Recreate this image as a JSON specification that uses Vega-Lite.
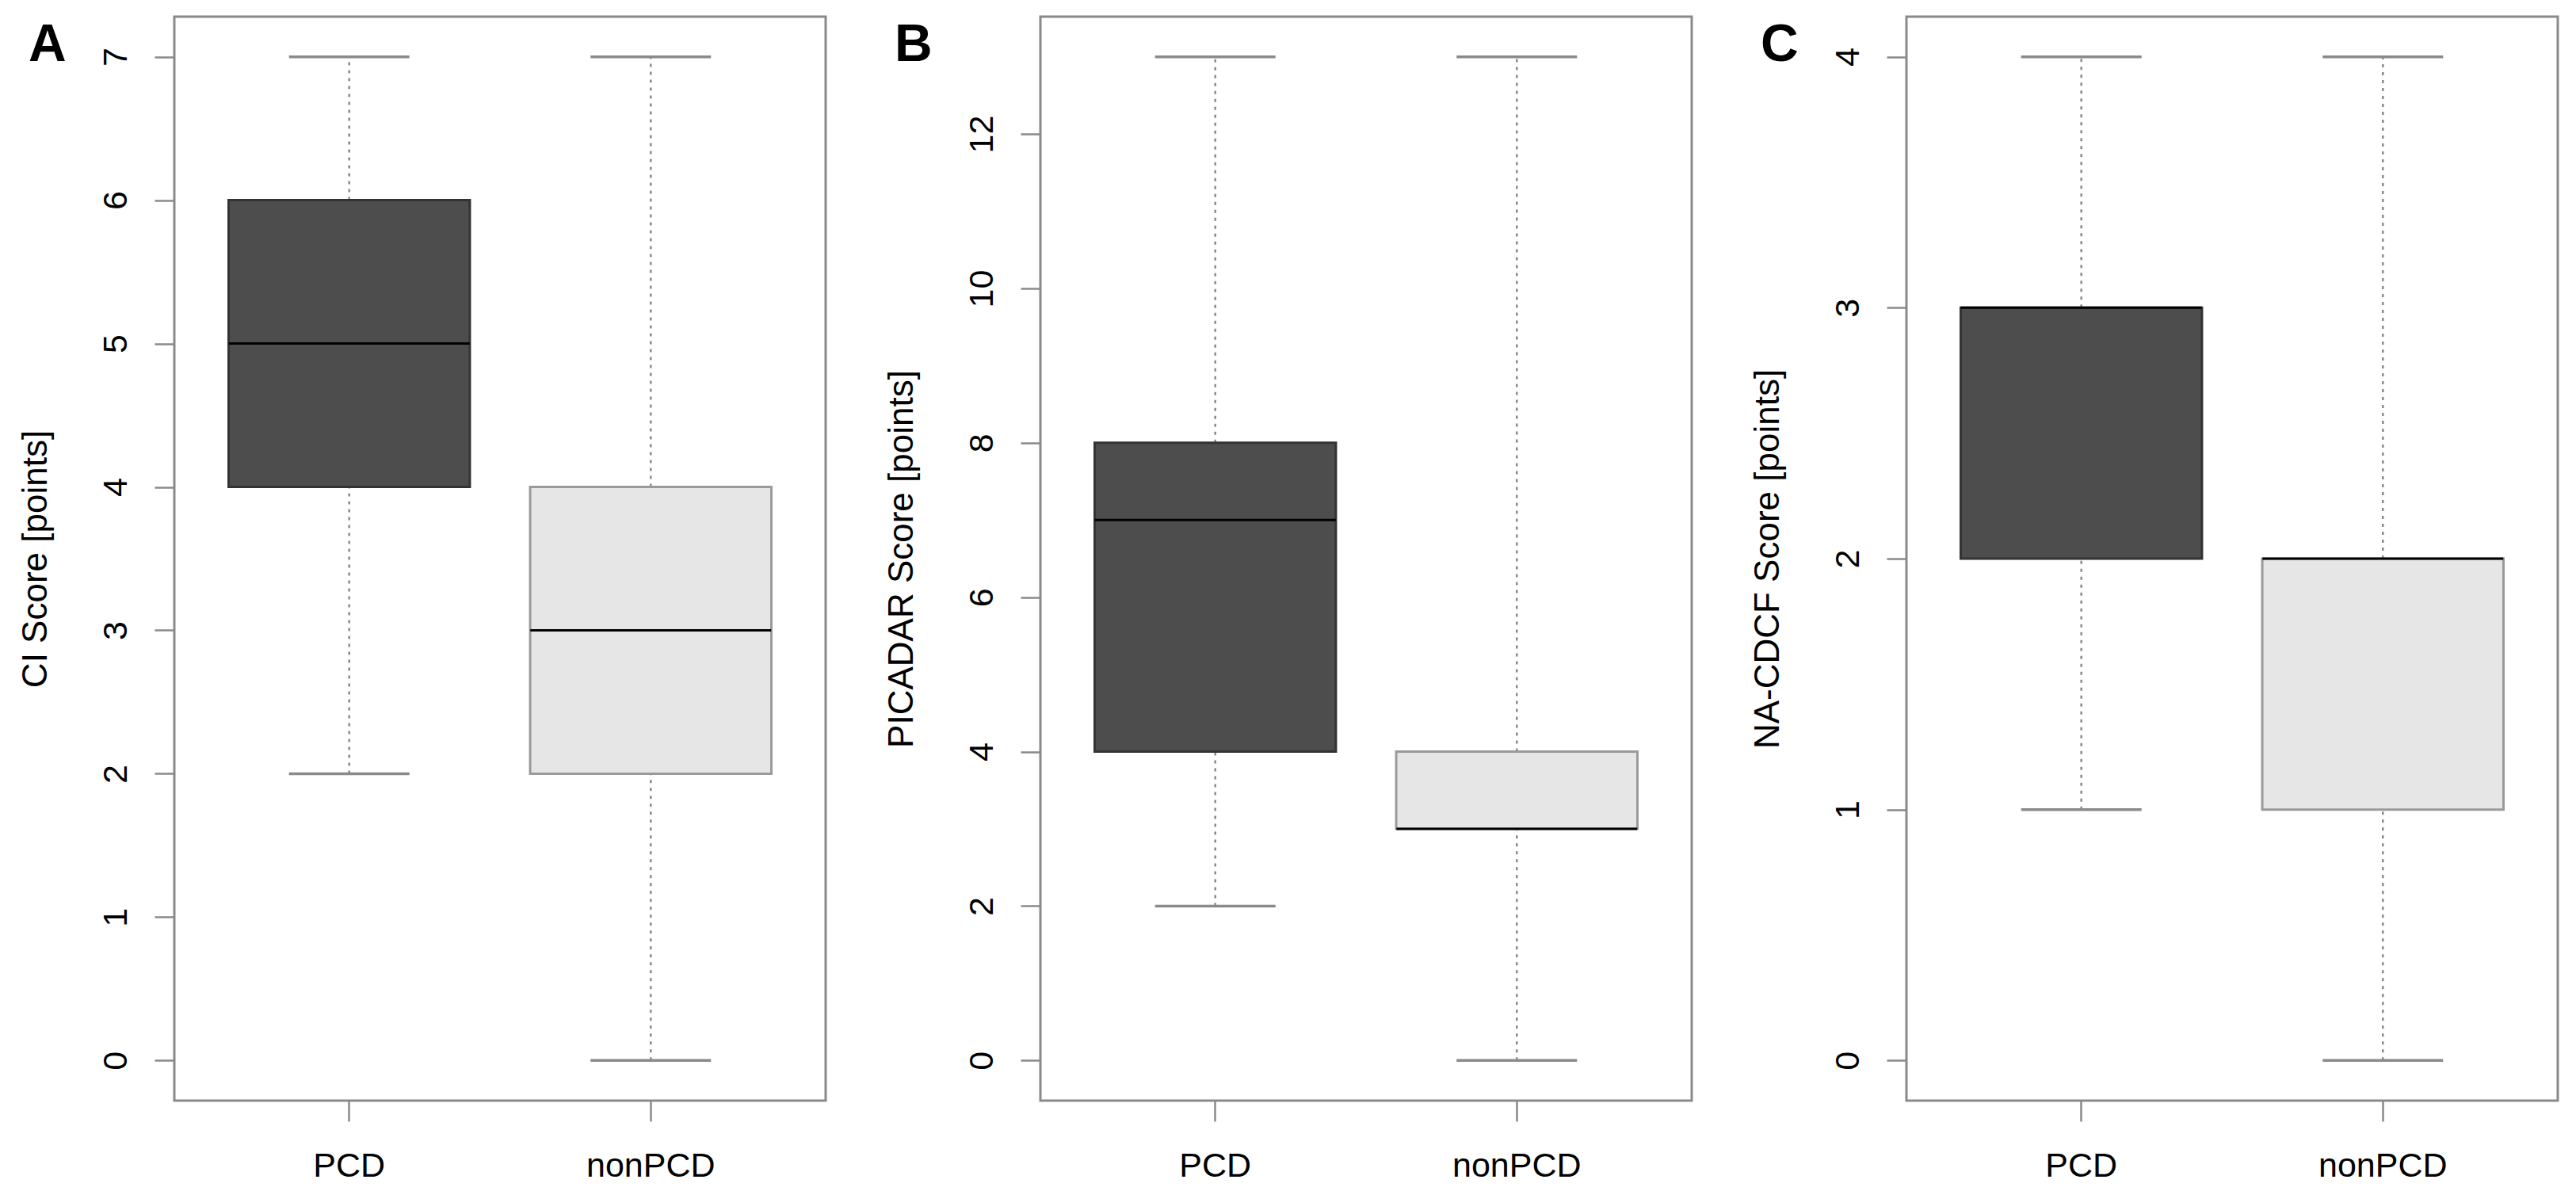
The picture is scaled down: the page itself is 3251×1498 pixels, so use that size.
{
  "$schema": "https://vega.github.io/schema/vega-lite/v6.json",
  "padding": {"left": 21, "top": 19, "right": 20, "bottom": 10},
  "background": "white",
  "datasets": {
    "scores": [
      {"panel": "A", "group": "PCD", "min": 2, "q1": 4, "median": 5, "q3": 6, "max": 7},
      {"panel": "A", "group": "nonPCD", "min": 0, "q1": 2, "median": 3, "q3": 4, "max": 7},
      {"panel": "B", "group": "PCD", "min": 2, "q1": 4, "median": 7, "q3": 8, "max": 13},
      {"panel": "B", "group": "nonPCD", "min": 0, "q1": 3, "median": 3, "q3": 4, "max": 13},
      {"panel": "C", "group": "PCD", "min": 1, "q1": 2, "median": 3, "q3": 3, "max": 4},
      {"panel": "C", "group": "nonPCD", "min": 0, "q1": 1, "median": 2, "q3": 2, "max": 4}
    ]
  },
  "data": {"name": "scores"},
  "spacing": 70,
  "hconcat": [
    {
      "width": 822, "height": 1368,
      "title": {"text": "A"},
      "transform": [{"filter": "datum.panel == 'A'"}],
      "encoding": {
        "x": {"field": "group", "type": "nominal", "sort": ["PCD", "nonPCD"],
              "scale": {"paddingInner": 0.2, "paddingOuter": 0.18}, "axis": {"title": null}}
      },
      "layer": [
        {"mark": {"type": "rule", "color": "#8a8a8a", "strokeWidth": 2.5, "strokeDash": [4, 6]},
         "encoding": {
           "y": {"field": "q3", "type": "quantitative", "scale": {"domain": [-0.28, 7.28], "nice": false, "zero": false},
                 "axis": {"title": "CI Score [points]", "values": [0, 1, 2, 3, 4, 5, 6, 7]}},
           "y2": {"field": "max"}}},
        {"mark": {"type": "rule", "color": "#8a8a8a", "strokeWidth": 2.5, "strokeDash": [4, 6]},
         "encoding": {"y": {"field": "min", "type": "quantitative"}, "y2": {"field": "q1"}}},
        {"mark": {"type": "bar", "width": {"band": 1}, "strokeWidth": 3},
         "encoding": {
           "y": {"field": "q1", "type": "quantitative"}, "y2": {"field": "q3"},
           "fill": {"field": "group", "type": "nominal", "scale": {"domain": ["PCD", "nonPCD"], "range": ["#4d4d4d", "#e6e6e6"]}, "legend": null},
           "stroke": {"field": "group", "type": "nominal", "scale": {"domain": ["PCD", "nonPCD"], "range": ["#333333", "#9a9a9a"]}, "legend": null}}},
        {"mark": {"type": "tick", "color": "black", "thickness": 3, "size": 304, "opacity": 1},
         "encoding": {"y": {"field": "median", "type": "quantitative"}}},
        {"mark": {"type": "tick", "color": "#8a8a8a", "thickness": 3.5, "size": 152, "opacity": 1},
         "encoding": {"y": {"field": "min", "type": "quantitative"}}},
        {"mark": {"type": "tick", "color": "#8a8a8a", "thickness": 3.5, "size": 152, "opacity": 1},
         "encoding": {"y": {"field": "max", "type": "quantitative"}}}
      ]
    },
    {
      "width": 822, "height": 1368,
      "title": {"text": "B"},
      "transform": [{"filter": "datum.panel == 'B'"}],
      "encoding": {
        "x": {"field": "group", "type": "nominal", "sort": ["PCD", "nonPCD"],
              "scale": {"paddingInner": 0.2, "paddingOuter": 0.18}, "axis": {"title": null}}
      },
      "layer": [
        {"mark": {"type": "rule", "color": "#8a8a8a", "strokeWidth": 2.5, "strokeDash": [4, 6]},
         "encoding": {
           "y": {"field": "q3", "type": "quantitative", "scale": {"domain": [-0.52, 13.52], "nice": false, "zero": false},
                 "axis": {"title": "PICADAR Score [points]", "values": [0, 2, 4, 6, 8, 10, 12]}},
           "y2": {"field": "max"}}},
        {"mark": {"type": "rule", "color": "#8a8a8a", "strokeWidth": 2.5, "strokeDash": [4, 6]},
         "encoding": {"y": {"field": "min", "type": "quantitative"}, "y2": {"field": "q1"}}},
        {"mark": {"type": "bar", "width": {"band": 1}, "strokeWidth": 3},
         "encoding": {
           "y": {"field": "q1", "type": "quantitative"}, "y2": {"field": "q3"},
           "fill": {"field": "group", "type": "nominal", "scale": {"domain": ["PCD", "nonPCD"], "range": ["#4d4d4d", "#e6e6e6"]}, "legend": null},
           "stroke": {"field": "group", "type": "nominal", "scale": {"domain": ["PCD", "nonPCD"], "range": ["#333333", "#9a9a9a"]}, "legend": null}}},
        {"mark": {"type": "tick", "color": "black", "thickness": 3, "size": 304, "opacity": 1},
         "encoding": {"y": {"field": "median", "type": "quantitative"}}},
        {"mark": {"type": "tick", "color": "#8a8a8a", "thickness": 3.5, "size": 152, "opacity": 1},
         "encoding": {"y": {"field": "min", "type": "quantitative"}}},
        {"mark": {"type": "tick", "color": "#8a8a8a", "thickness": 3.5, "size": 152, "opacity": 1},
         "encoding": {"y": {"field": "max", "type": "quantitative"}}}
      ]
    },
    {
      "width": 822, "height": 1368,
      "title": {"text": "C"},
      "transform": [{"filter": "datum.panel == 'C'"}],
      "encoding": {
        "x": {"field": "group", "type": "nominal", "sort": ["PCD", "nonPCD"],
              "scale": {"paddingInner": 0.2, "paddingOuter": 0.18}, "axis": {"title": null}}
      },
      "layer": [
        {"mark": {"type": "rule", "color": "#8a8a8a", "strokeWidth": 2.5, "strokeDash": [4, 6]},
         "encoding": {
           "y": {"field": "q3", "type": "quantitative", "scale": {"domain": [-0.16, 4.16], "nice": false, "zero": false},
                 "axis": {"title": "NA-CDCF Score [points]", "values": [0, 1, 2, 3, 4]}},
           "y2": {"field": "max"}}},
        {"mark": {"type": "rule", "color": "#8a8a8a", "strokeWidth": 2.5, "strokeDash": [4, 6]},
         "encoding": {"y": {"field": "min", "type": "quantitative"}, "y2": {"field": "q1"}}},
        {"mark": {"type": "bar", "width": {"band": 1}, "strokeWidth": 3},
         "encoding": {
           "y": {"field": "q1", "type": "quantitative"}, "y2": {"field": "q3"},
           "fill": {"field": "group", "type": "nominal", "scale": {"domain": ["PCD", "nonPCD"], "range": ["#4d4d4d", "#e6e6e6"]}, "legend": null},
           "stroke": {"field": "group", "type": "nominal", "scale": {"domain": ["PCD", "nonPCD"], "range": ["#333333", "#9a9a9a"]}, "legend": null}}},
        {"mark": {"type": "tick", "color": "black", "thickness": 3, "size": 304, "opacity": 1},
         "encoding": {"y": {"field": "median", "type": "quantitative"}}},
        {"mark": {"type": "tick", "color": "#8a8a8a", "thickness": 3.5, "size": 152, "opacity": 1},
         "encoding": {"y": {"field": "min", "type": "quantitative"}}},
        {"mark": {"type": "tick", "color": "#8a8a8a", "thickness": 3.5, "size": 152, "opacity": 1},
         "encoding": {"y": {"field": "max", "type": "quantitative"}}}
      ]
    }
  ],
  "config": {
    "font": "Liberation Sans",
    "view": {"stroke": "#8a8a8a", "strokeWidth": 3},
    "title": {"anchor": "start", "frame": "group", "fontSize": 66, "fontWeight": "bold", "color": "black",
              "dx": -184, "dy": 74, "baseline": "alphabetic", "offset": 0},
    "axisX": {"domain": false, "grid": false, "tickSize": 26, "tickColor": "#8a8a8a", "tickWidth": 2.5,
              "labelPadding": 35, "labelAngle": 0, "labelFontSize": 43, "labelColor": "black", "labelBaseline": "top"},
    "axisY": {"domain": false, "grid": false, "tickSize": 25, "tickColor": "#8a8a8a", "tickWidth": 2.5,
              "labelPadding": 36, "labelAngle": 270, "labelAlign": "center", "labelBaseline": "alphabetic",
              "labelFontSize": 43, "labelColor": "black", "labelFlush": false, "labelOverlap": false, "format": "d",
              "minExtent": 105, "maxExtent": 105, "titlePadding": 48, "titleFontSize": 44,
              "titleFontWeight": "normal", "titleColor": "black"}
  }
}
